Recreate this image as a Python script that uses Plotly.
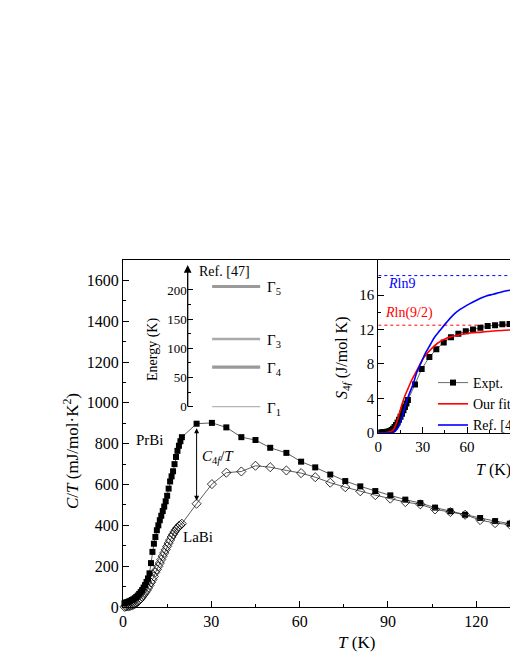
import plotly.graph_objects as go

# main panel: C/T of PrBi and LaBi (mJ/mol K^2)
T_main = [0.5, 1, 1.5, 2, 2.5, 3, 3.5, 4, 4.5, 5, 5.5, 6, 6.5, 7, 7.5, 8, 8.5, 9, 9.5, 10,
          10.5, 11, 11.5, 12, 12.5, 13, 13.5, 14, 14.5, 15, 15.5, 16, 16.5, 17, 17.5, 18,
          18.5, 19, 19.5, 20, 25, 30.2, 35.1, 40.2, 45, 50, 55.5, 60.5, 65.3, 70.4, 75.5,
          80.6, 85.7, 90.8, 95.9, 101, 106, 111.2, 116.2, 121.3, 126.4, 131.4, 136.5]
prbi = [18, 22, 24, 27, 30, 34, 38, 43, 49, 56, 64, 73, 83, 95, 108, 123, 140, 165, 215, 270,
        310, 343, 376, 400, 425, 447, 470, 492, 518, 545, 580, 615, 640, 665, 700, 735,
        765, 790, 812, 832, 898, 902, 880, 832, 818, 780, 755, 712, 684, 649, 617,
        591, 568, 547, 526, 509, 487, 469, 452, 436, 421, 408, 396]
labi = [1, 2, 3, 4, 6, 8, 11, 15, 20, 26, 33, 41, 50, 60, 70, 81, 93, 106, 120, 134,
        150, 170, 184, 199, 215, 232, 249, 265, 281, 297, 313, 328, 343, 356, 368, 379,
        388, 396, 402, 408, 506, 602, 658, 664, 692, 685, 669, 656, 636, 609, 587,
        567, 548, 531, 514, 503, 478, 465, 452, 426, 411, 404, 392]

# CEF level scheme (Ref. [47]), energies in K
levels = ["Γ<sub>1</sub>", "Γ<sub>4</sub>", "Γ<sub>3</sub>", "Γ<sub>5</sub>"]
level_energy = [0, 68, 116, 206]

# inset: 4f entropy (J/mol K)
T_expt = [1, 2, 3, 4, 5, 6, 7, 8, 9, 10, 11, 12, 13, 14, 15, 16, 17, 18, 19, 20,
          24.8, 29.3, 34.5, 39.2, 44.2, 49.1, 54.1, 59.1, 64, 69, 73.9, 78.9, 83.8, 88.7, 93.6]
S_expt = [0.0, 0.02, 0.04, 0.06, 0.08, 0.11, 0.15, 0.2, 0.3, 0.45, 0.65, 0.9, 1.2, 1.5, 1.85,
          2.2, 2.6, 3.0, 3.4, 3.8, 5.6, 7.4, 8.8, 9.7, 10.5, 11.1, 11.5, 11.8, 12.0, 12.2,
          12.4, 12.5, 12.6, 12.65, 12.7]
T_fit = [0, 4, 6, 8, 10, 12, 14, 16, 18, 20, 22.5, 25, 28, 31, 35, 40, 45, 50, 55, 62, 70, 80, 90, 96]
S_fit = [0, 0, 0.02, 0.1, 0.3, 1.0, 2.1, 3.3, 4.3, 5.1, 6.1, 6.9, 7.9, 8.8, 9.6, 10.4, 10.9,
         11.2, 11.4, 11.6, 11.7, 11.85, 11.95, 12.0]
T_ref = [0, 8, 10, 12, 14, 16, 18, 20, 23.6, 26, 29.3, 32, 35, 38, 41.7, 46, 50.7, 55, 59.7,
         64, 68.7, 73, 77.7, 82, 86.8, 93.5, 96]
S_ref = [0, 0, 0.05, 0.3, 0.8, 1.8, 3.0, 4.1, 5.7, 7.0, 8.3, 9.3, 10.2, 11.1, 11.9, 12.8, 13.7,
         14.3, 14.8, 15.2, 15.6, 15.9, 16.1, 16.3, 16.5, 16.7, 16.8]
R_LN9 = 18.27
R_LN92 = 12.50

FONT = "Liberation Serif"
OFF = 8  # page body margin
W, H = 510, 654
L, TOP, B = 115, 252, 55


def px(x):
    # page pixel -> paper x
    return (x - OFF - L) / (W - L)


def py(y):
    # page pixel -> paper y
    return (H - B - (y - OFF)) / (H - TOP - B)


fig = go.Figure()

line_kw = dict(color="#333333", width=0.8)
fig.add_trace(go.Scatter(x=T_main, y=prbi, mode="lines+markers", line=line_kw,
                         marker=dict(symbol="square", size=6, color="black"),
                         showlegend=False, cliponaxis=False))
fig.add_trace(go.Scatter(x=T_main, y=labi, mode="lines+markers", line=line_kw,
                         marker=dict(symbol="diamond-open", size=7, color="black",
                                     line=dict(width=0.8)),
                         showlegend=False, cliponaxis=False))

# level scheme
level_width = [1.2, 3.2, 2.4, 3.2]
level_color = ["#b5b5b5", "#9a9a9a", "#aaaaaa", "#9a9a9a"]
for name, e, w, c in zip(levels, level_energy, level_width, level_color):
    fig.add_trace(go.Scatter(x=[0.28, 0.83], y=[e, e], mode="lines", xaxis="x2", yaxis="y2",
                             line=dict(color=c, width=w), showlegend=False))
    fig.add_annotation(x=0.88, y=e, xref="x2", yref="y2", text=name, showarrow=False,
                       xanchor="left", yanchor="middle", yshift=-2,
                       font=dict(family=FONT, size=15, color="black"))

# entropy inset
fig.add_trace(go.Scatter(x=[0, 100], y=[R_LN9, R_LN9], mode="lines", xaxis="x3", yaxis="y3",
                         line=dict(color="blue", width=1, dash="dot"), showlegend=False))
fig.add_trace(go.Scatter(x=[0, 100], y=[R_LN92, R_LN92], mode="lines", xaxis="x3", yaxis="y3",
                         line=dict(color="red", width=1, dash="dot"), showlegend=False))
fig.add_trace(go.Scatter(x=T_expt, y=S_expt, mode="lines+markers", xaxis="x3", yaxis="y3",
                         name="Expt.", line=dict(color="#444444", width=0.8),
                         marker=dict(symbol="square", size=6, color="black")))
fig.add_trace(go.Scatter(x=T_fit, y=S_fit, mode="lines", xaxis="x3", yaxis="y3",
                         name="Our fitting", line=dict(color="red", width=1.6, shape="spline")))
fig.add_trace(go.Scatter(x=T_ref, y=S_ref, mode="lines", xaxis="x3", yaxis="y3",
                         name="Ref. [47]", line=dict(color="blue", width=1.6, shape="spline")))

tick_font = dict(family=FONT, size=16, color="black")
axis_kw = dict(showline=True, linecolor="black", linewidth=1.3, ticks="inside",
               tickcolor="black", ticklen=6, tickwidth=1, showgrid=False, zeroline=False)

fig.update_layout(
    width=W, height=H,
    margin=dict(l=L, r=0, t=TOP, b=B, autoexpand=False),
    paper_bgcolor="white", plot_bgcolor="white",
    font=dict(family=FONT, color="black"),
    xaxis=dict(domain=[0, 1], range=[0, (518 - 123) / 2.944], dtick=30, mirror=True,
               tickfont=tick_font, minor=dict(dtick=15, ticks="inside", ticklen=3,
                                              tickcolor="black"), **axis_kw),
    yaxis=dict(domain=[0, 1], range=[0, 1700], tickvals=list(range(0, 1700, 200)),
               tickfont=tick_font, minor=dict(dtick=100, ticks="inside", ticklen=3,
                                              tickcolor="black"), **axis_kw),
    xaxis2=dict(domain=[px(187.7), px(275)], range=[0, 1], visible=False, anchor="y2"),
    yaxis2=dict(domain=[py(408), py(267)], range=[-2.2, 239.4], anchor="x2",
                showline=False, showgrid=False, zeroline=False, ticks="inside",
                ticklen=5, tickcolor="black", tickvals=[0, 50, 100, 150, 200],
                tickfont=dict(family=FONT, size=13, color="black"),
                minor=dict(tickvals=[25, 75, 125, 175], ticks="inside", ticklen=3,
                           tickcolor="black")),
    xaxis3=dict(domain=[px(378.3), 1], range=[0, (518 - 378.3) / 1.48], anchor="y3", dtick=30,
                tickfont=dict(family=FONT, size=15, color="black"),
                minor=dict(dtick=15, ticks="inside", ticklen=3, tickcolor="black"), **axis_kw),
    yaxis3=dict(domain=[py(432.7), 1], range=[0, (432.7 - 260) / 8.6], anchor="x3",
                tickvals=[0, 4, 8, 12, 16],
                tickfont=dict(family=FONT, size=15, color="black"),
                minor=dict(dtick=2, ticks="inside", ticklen=3, tickcolor="black"), **axis_kw),
    legend=dict(x=px(433), y=py(367), xanchor="left", yanchor="top",
                bgcolor="rgba(0,0,0,0)", font=dict(family=FONT, size=14, color="black"),
                itemwidth=30, tracegroupgap=0),
)


def label(x, y, text, size=15, color="black", angle=0, xanchor="center", **kw):
    fig.add_annotation(x=x, y=y, text=text, showarrow=False, textangle=angle,
                       xanchor=xanchor, yanchor="middle",
                       font=dict(family=FONT, size=size, color=color), **kw)


# axis titles
label(px(356), py(642), "<i>T</i> (K)", size=17, xref="paper", yref="paper")
label(px(71), py(451), "<i>C</i>/<i>T</i> (mJ/mol·K<sup>2</sup>)", size=17, angle=-90,
      xref="paper", yref="paper")
label(px(153), py(350), "Energy (K)", size=14, angle=-90, xref="paper", yref="paper")
label(px(197), py(271), "Ref. [47]", size=14, xanchor="left", xref="paper", yref="paper")
label(px(342), py(358), "<i>S</i><sub>4<i>f</i></sub> (J/mol K)", size=16, angle=-90,
      xref="paper", yref="paper")
label(px(493), py(470), "<i>T</i> (K)", size=16, xref="paper", yref="paper")

# energy axis drawn as an arrow
fig.add_annotation(x=px(187.7), y=py(265), xref="paper", yref="paper", text="",
                   showarrow=True, ax=0, ay=143, arrowhead=2, arrowsize=1.2,
                   arrowwidth=1.3, arrowcolor="black")

# R ln labels
label(5.5, 17.3, "<i>R</i>ln9", size=14, color="blue", xanchor="left", xref="x3", yref="y3")
label(3.0, 13.9, "<i>R</i>ln(9/2)", size=14, color="red", xanchor="left", xref="x3", yref="y3")

# sample labels and C4f/T arrow
label(9.2, 818, "PrBi")
label(25.5, 343, "LaBi")
i25 = T_main.index(25)
fig.add_annotation(x=25, y=labi[i25], ax=25, ay=prbi[i25], xref="x", yref="y", axref="x",
                   ayref="y", text="", showarrow=True, arrowside="end+start", arrowhead=2,
                   startarrowhead=2, arrowsize=1, arrowwidth=1, arrowcolor="black",
                   standoff=3, startstandoff=3)
label(26, 735, "<i>C</i><sub>4<i>f</i></sub>/<i>T</i>", xanchor="left")

fig.write_html("out.html")
